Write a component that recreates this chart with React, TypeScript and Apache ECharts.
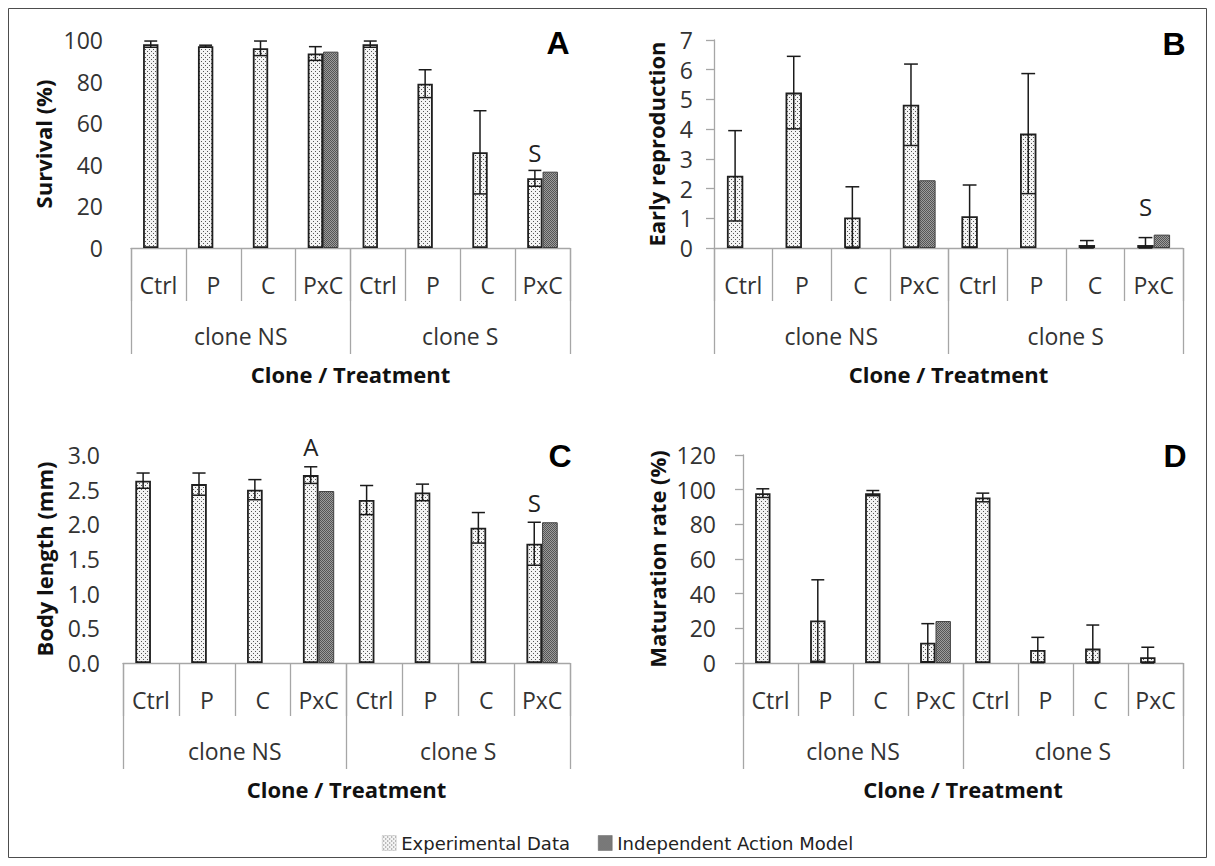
import React, { useEffect, useRef } from "react";
import * as echarts from "echarts";

// ---------- data ----------
const treatments = ["Ctrl", "P", "C", "PxC", "Ctrl", "P", "C", "PxC"];
const clones = ["clone NS", "clone S"];
const legendNames = ["Experimental Data", "Independent Action Model"];
const xTitle = "Clone / Treatment";

// Panel A: Survival (%)
const survivalExp = [98, 97, 96, 93.5, 98, 79, 46, 33.5];
const survivalErr = [1.5, 0.5, 3.5, 3.3, 1.5, 6.7, 20, 3.8];
const survivalModel = [null, null, null, 94.4, null, null, null, 36.7];
const survivalNotes = [{ cat: 7, y: 46, text: "S" }];

// Panel B: Early reproduction
const reproExp = [2.43, 5.23, 1.03, 4.82, 1.07, 3.85, 0.1, 0.1];
const reproErr = [1.52, 1.22, 1.03, 1.37, 1.05, 2.02, 0.15, 0.25];
const reproModel = [null, null, null, 2.28, null, null, null, 0.45];
const reproNotes = [{ cat: 7, y: 1.38, text: "S" }];

// Panel C: Body length (mm)
const bodyExp = [2.63, 2.58, 2.5, 2.71, 2.35, 2.46, 1.95, 1.72];
const bodyErr = [0.11, 0.16, 0.145, 0.12, 0.21, 0.12, 0.22, 0.31];
const bodyModel = [null, null, null, 2.48, null, null, null, 2.03];
const bodyNotes = [
  { cat: 3, y: 3.12, text: "A" },
  { cat: 7, y: 2.32, text: "S" },
];

// Panel D: Maturation rate (%)
const matExp = [98, 24.5, 98, 11.7, 95.5, 7.5, 8.3, 3.3];
const matErr = [2.5, 23.5, 1.5, 11, 2.5, 7.3, 13.6, 5.8];
const matModel = [null, null, null, 24.2, null, null, null, null];
const matNotes: { cat: number; y: number; text: string }[] = [];

const BAR_FRAC = 0.28;
const FONT = "'Open Sans', 'Noto Sans', sans-serif";

function makePattern(bg: string, dot: string, size: number, dots: number[][]) {
  const c = document.createElement("canvas");
  c.width = size;
  c.height = size;
  const ctx = c.getContext("2d")!;
  ctx.fillStyle = bg;
  ctx.fillRect(0, 0, size, size);
  ctx.fillStyle = dot;
  dots.forEach(([x, y]) => ctx.fillRect(x, y, 1, 1));
  return c;
}

export default function App() {
  const ref = useRef<HTMLDivElement>(null);

  useEffect(() => {
    if (!ref.current) return;
    const chart = echarts.init(ref.current, null, { renderer: "svg" });

    const expPattern = {
      image: makePattern("#f4f4f4", "#555555", 4, [
        [1, 1],
        [3, 3],
      ]),
      repeat: "repeat",
    };
    const modelPattern = {
      image: makePattern("#9c9c9c", "#555555", 2, [
        [0, 0],
        [1, 1],
      ]),
      repeat: "repeat",
    };

    const panels = [
      {
        grid: { left: 131, top: 40, width: 439, height: 208 },
        yName: "Survival (%)",
        nameGap: 77,
        labelMargin: 28,
        yLine: false,
        min: 0, max: 100, interval: 20, dec: 0,
        exp: survivalExp, err: survivalErr, model: survivalModel, notes: survivalNotes,
        letter: { t: "A", x: 558, y: 43 },
      },
      {
        grid: { left: 714, top: 40, width: 469, height: 208 },
        yName: "Early reproduction",
        nameGap: 47,
        labelMargin: 21,
        yLine: true,
        min: 0, max: 7, interval: 1, dec: 0,
        exp: reproExp, err: reproErr, model: reproModel, notes: reproNotes,
        letter: { t: "B", x: 1174, y: 44 },
      },
      {
        grid: { left: 123, top: 455, width: 447, height: 208 },
        yName: "Body length (mm)",
        nameGap: 68,
        labelMargin: 23,
        yLine: false,
        min: 0, max: 3, interval: 0.5, dec: 1,
        exp: bodyExp, err: bodyErr, model: bodyModel, notes: bodyNotes,
        letter: { t: "C", x: 560, y: 456 },
      },
      {
        grid: { left: 743, top: 455, width: 440, height: 208 },
        yName: "Maturation rate (%)",
        nameGap: 75,
        labelMargin: 27,
        yLine: true,
        min: 0, max: 120, interval: 20, dec: 0,
        exp: matExp, err: matErr, model: matModel, notes: matNotes,
        letter: { t: "D", x: 1175, y: 456 },
      },
    ];

    const axisGrey = "#a6a6a6";
    const grids: any[] = [];
    const xAxes: any[] = [];
    const yAxes: any[] = [];
    const series: any[] = [];
    const graphics: any[] = [
      {
        type: "rect",
        shape: { x: 8.5, y: 8.5, width: 1198, height: 849 },
        style: { fill: "none", stroke: "#4d4d4d", lineWidth: 1 },
        silent: true,
      },
    ];

    panels.forEach((p, g) => {
      grids.push({ ...p.grid, containLabel: false });
      xAxes.push({
        type: "category",
        gridIndex: g,
        position: "bottom",
        data: treatments,
        axisLine: { show: true, lineStyle: { color: axisGrey, width: 1.3 } },
        axisTick: { show: true, length: 53, lineStyle: { color: axisGrey, width: 1.3 } },
        axisLabel: { margin: 25, fontSize: 23, color: "#333", fontFamily: FONT, interval: 0 },
        splitLine: { show: false },
      });
      xAxes.push({
        type: "category",
        gridIndex: g,
        position: "bottom",
        offset: 0,
        data: clones,
        axisLine: { show: false },
        axisTick: { show: true, length: 106, lineStyle: { color: axisGrey, width: 1.3 } },
        axisLabel: { margin: 76, fontSize: 23, color: "#333", fontFamily: FONT, interval: 0 },
        splitLine: { show: false },
        name: xTitle,
        nameLocation: "middle",
        nameGap: 115,
        nameTextStyle: { fontSize: 22, fontWeight: "bold", color: "#111", fontFamily: FONT },
      });
      yAxes.push({
        type: "value",
        gridIndex: g,
        min: p.min,
        max: p.max,
        interval: p.interval,
        name: p.yName,
        nameLocation: "middle",
        nameGap: p.nameGap,
        nameTextStyle: { fontSize: 22, fontWeight: "bold", color: "#111", fontFamily: FONT },
        axisLine: { show: p.yLine, lineStyle: { color: axisGrey, width: 1.3 } },
        axisTick: { show: p.yLine, length: 8, lineStyle: { color: axisGrey, width: 1.3 } },
        axisLabel: {
          margin: p.labelMargin,
          fontSize: 23,
          color: "#333",
          fontFamily: FONT,
          formatter: (v: number) => v.toFixed(p.dec),
        },
        splitLine: { show: false },
      });
      const xi = g * 2;
      series.push({
        type: "bar",
        name: legendNames[0],
        xAxisIndex: xi,
        yAxisIndex: g,
        data: p.exp,
        barWidth: BAR_FRAC * 100 + "%",
        barGap: "0%",
        itemStyle: { color: expPattern, borderColor: "#1f1f1f", borderWidth: 1.8 },
        z: 2,
      });
      series.push({
        type: "bar",
        name: legendNames[1],
        xAxisIndex: xi,
        yAxisIndex: g,
        data: p.model,
        barWidth: BAR_FRAC * 100 + "%",
        barGap: "0%",
        itemStyle: { color: modelPattern, borderColor: "#404040", borderWidth: 1 },
        z: 2,
      });
      series.push({
        type: "custom",
        name: "err" + g,
        xAxisIndex: xi,
        yAxisIndex: g,
        z: 5,
        silent: true,
        encode: { x: 0, y: 1 },
        data: p.exp.map((v, i) => [i, v, p.err[i]]),
        renderItem: (params: any, api: any) => {
          const i = api.value(0);
          const v = api.value(1);
          const e = api.value(2);
          const band = api.size([1, 0])[0];
          const bw = band * BAR_FRAC;
          const c = api.coord([i, v]);
          const hi = api.coord([i, v + e]);
          const lo = api.coord([i, Math.max(0, v - e)]);
          const x = c[0] - bw / 2;
          const cap = bw * 0.42;
          const style = { stroke: "#1a1a1a", lineWidth: 1.5 };
          return {
            type: "group",
            children: [
              { type: "line", shape: { x1: x, y1: hi[1], x2: x, y2: lo[1] }, style },
              { type: "line", shape: { x1: x - cap, y1: hi[1], x2: x + cap, y2: hi[1] }, style },
              { type: "line", shape: { x1: x - cap, y1: lo[1], x2: x + cap, y2: lo[1] }, style },
            ],
          };
        },
      });
      if (p.notes.length) {
        series.push({
          type: "custom",
          name: "note" + g,
          xAxisIndex: xi,
          yAxisIndex: g,
          z: 6,
          silent: true,
          clip: false,
          encode: { x: 0, y: 1 },
          data: p.notes.map((n) => [n.cat, n.y]),
          renderItem: (params: any, api: any) => {
            const n = p.notes[params.dataIndex];
            const band = api.size([1, 0])[0];
            const bw = band * BAR_FRAC;
            const c = api.coord([api.value(0), api.value(1)]);
            return {
              type: "text",
              style: {
                text: n.text,
                x: c[0] - bw / 2,
                y: c[1],
                align: "center",
                verticalAlign: "middle",
                fontSize: 24,
                fontFamily: FONT,
                fill: "#222",
              },
            };
          },
        });
      }
      graphics.push({
        type: "text",
        x: p.letter.x,
        y: p.letter.y,
        style: {
          text: p.letter.t,
          align: "center",
          verticalAlign: "middle",
          fontSize: 32,
          fontWeight: "bold",
          fontFamily: "'Liberation Sans', Arial, sans-serif",
          fill: "#000",
        },
      });
    });

    chart.setOption({
      animation: false,
      backgroundColor: "#ffffff",
      grid: grids,
      xAxis: xAxes,
      yAxis: yAxes,
      series,
      legend: {
        data: [
          { name: legendNames[0], itemStyle: { borderWidth: 0.5, borderColor: "#bbb" } },
          { name: legendNames[1], itemStyle: { borderWidth: 0.5, borderColor: "#666" } },
        ],
        left: 377,
        top: 829,
        icon: "rect",
        itemWidth: 14,
        itemHeight: 15,
        itemGap: 28,
        textStyle: { fontFamily: "'DejaVu Sans', Verdana, sans-serif", fontSize: 18, color: "#222" },
        selectedMode: false,
      },
      graphic: graphics,
    });

    return () => chart.dispose();
  }, []);

  return (
    <div
      ref={ref}
      style={{ position: "absolute", left: 0, top: 0, width: 1215, height: 866 }}
    />
  );
}
